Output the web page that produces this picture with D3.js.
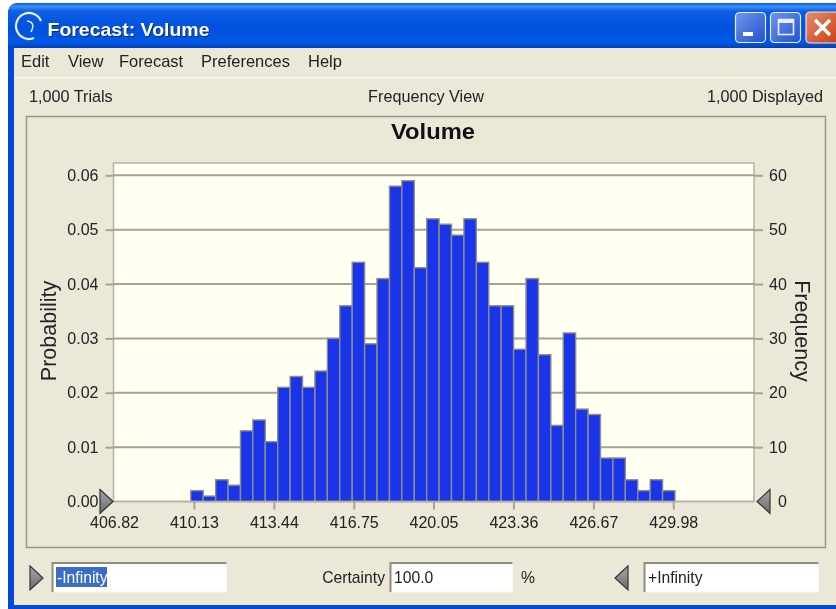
<!DOCTYPE html>
<html>
<head>
<meta charset="utf-8">
<title>Forecast: Volume</title>
<script src="https://cdn.jsdelivr.net/npm/d3@7"></script>
<style>
html, body { margin: 0; padding: 0; background: #fff; }
svg { display: block; filter: blur(0.45px); }
text { font-family: "Liberation Sans", sans-serif; fill: #222; }
.axis text { font-size: 16px; fill: #222; }
.axis path { display: none; }
.axis line { stroke: #a5a296; stroke-width: 2px; }
.menu { font-size: 16.5px; }
.info { font-size: 16.2px; }
.field { font-size: 15.7px; }
</style>
</head>
<body>
<script>

// histogram of the forecast (1000 trials in total)
var counts = [2, 1, 4, 3, 13, 15, 11, 21, 23, 21, 24, 30, 36, 44, 29, 41, 58, 59, 43, 52,
              51, 49, 52, 44, 36, 36, 28, 41, 27, 14, 31, 17, 16, 8, 8, 4, 2, 4, 2];
var binRange = [410.0, 430.05];
var xTicks = [406.82, 410.13, 413.44, 416.75, 420.05, 423.36, 426.67, 429.98];
var probTicks = [0, 0.01, 0.02, 0.03, 0.04, 0.05, 0.06];
var freqTicks = [0, 10, 20, 30, 40, 50, 60];
var menuItems = ["Edit", "View", "Forecast", "Preferences", "Help"];
var menuX = [21, 68, 119, 201, 308];

var width = 836,
    height = 609;

var plot = {left: 113.5, right: 754, top: 163, bottom: 501.5};

var x = d3.scaleLinear().domain([406.82, 429.98]).range([114, 673.3]);
var band = d3.scaleBand().domain(d3.range(counts.length)).range([x(binRange[0]), x(binRange[1])]);
var yFreq = d3.scaleLinear().domain([0, 60]).range([plot.bottom, 175.3]);
var yProb = d3.scaleLinear().domain([0, 0.06]).range([plot.bottom, 175.3]);

var svg = d3.select("body").append("svg")
    .attr("width", width)
    .attr("height", height);

var defs = svg.append("defs");

var titleGrad = defs.append("linearGradient").attr("id", "titleGrad")
    .attr("x1", 0).attr("y1", 0).attr("x2", 0).attr("y2", 1);
[[0, "#0a5be0"], [0.08, "#3d90f5"], [0.18, "#0c5fe6"], [0.55, "#0151dd"], [0.88, "#0258e6"], [1, "#0040b8"]]
  .forEach(function(s) { titleGrad.append("stop").attr("offset", s[0]).attr("stop-color", s[1]); });

var btnGrad = defs.append("linearGradient").attr("id", "btnGrad")
    .attr("x1", 0).attr("y1", 0).attr("x2", 1).attr("y2", 1);
btnGrad.append("stop").attr("offset", 0).attr("stop-color", "#6f96ec");
btnGrad.append("stop").attr("offset", 1).attr("stop-color", "#2350cf");

var closeGrad = defs.append("linearGradient").attr("id", "closeGrad")
    .attr("x1", 0).attr("y1", 0).attr("x2", 1).attr("y2", 1);
closeGrad.append("stop").attr("offset", 0).attr("stop-color", "#e88c6c");
closeGrad.append("stop").attr("offset", 1).attr("stop-color", "#c83c12");

var markGrad = defs.append("linearGradient").attr("id", "markGrad")
    .attr("x1", 0).attr("y1", 0).attr("x2", 0).attr("y2", 1);
markGrad.append("stop").attr("offset", 0).attr("stop-color", "#a8a8a8");
markGrad.append("stop").attr("offset", 1).attr("stop-color", "#6a6a6a");

// window frame
svg.append("path")
    .attr("d", "M8,609V14Q8,3 19,3H836V609Z")
    .attr("fill", "#0349d6");
svg.append("path")
    .attr("d", "M8,48V14Q8,3 19,3H836V48Z")
    .attr("fill", "url(#titleGrad)");
svg.append("rect")
    .attr("x", 14).attr("y", 48)
    .attr("width", width - 14).attr("height", 557)
    .attr("fill", "#ebe8d8");
svg.append("rect")
    .attr("x", 14).attr("y", 77)
    .attr("width", width - 14).attr("height", 1.5)
    .attr("fill", "#fbfaf5");

// title bar
svg.append("path")
    .attr("d", "M41,21A13,13 0 1 0 34,38")
    .attr("fill", "none").attr("stroke", "#e8f0ff").attr("stroke-width", 2.2);
svg.append("path")
    .attr("d", "M27,21Q36,22 31,32")
    .attr("fill", "none").attr("stroke", "#e8f0ff").attr("stroke-width", 1.5);
svg.append("text")
    .attr("x", 48.5).attr("y", 37)
    .attr("textLength", 162)
    .attr("lengthAdjust", "spacingAndGlyphs")
    .style("font-weight", "bold").style("font-size", "19px")
    .style("fill", "#0a2a80")
    .text("Forecast: Volume");
svg.append("text")
    .attr("x", 47.5).attr("y", 36)
    .attr("textLength", 162)
    .attr("lengthAdjust", "spacingAndGlyphs")
    .style("font-weight", "bold").style("font-size", "19px")
    .style("fill", "#fff")
    .text("Forecast: Volume");

// window buttons
[736, 771].forEach(function(bx) {
  svg.append("rect")
      .attr("x", bx - 0.5).attr("y", 12.5)
      .attr("width", 30).attr("height", 30).attr("rx", 4)
      .attr("fill", "url(#btnGrad)").attr("stroke", "#e8eefc").attr("stroke-width", 1.2);
});
svg.append("rect").attr("x", 743).attr("y", 32).attr("width", 10).attr("height", 4).attr("fill", "#fff");
svg.append("rect")
    .attr("x", 778.5).attr("y", 19.5).attr("width", 15).attr("height", 15)
    .attr("fill", "none").attr("stroke", "#e8eefc").attr("stroke-width", 1.6);
svg.append("rect").attr("x", 778).attr("y", 19).attr("width", 16).attr("height", 4).attr("fill", "#e8eefc");
svg.append("rect")
    .attr("x", 806).attr("y", 12).attr("width", 34).attr("height", 31).attr("rx", 4)
    .attr("fill", "url(#closeGrad)").attr("stroke", "#f0e4e0").attr("stroke-width", 1.2);
svg.append("path")
    .attr("d", "M815,20L830,35M830,20L815,35")
    .attr("stroke", "#fff").attr("stroke-width", 3.4);

// menu and info row
svg.selectAll(".menu")
    .data(menuItems)
    .enter().append("text")
    .attr("class", "menu")
    .attr("x", function(d, i) { return menuX[i]; })
    .attr("y", 67)
    .text(function(d) { return d; });

svg.append("text").attr("class", "info").attr("x", 29).attr("y", 102).text("1,000 Trials");
svg.append("text").attr("class", "info").attr("x", 426).attr("y", 102)
    .attr("text-anchor", "middle").text("Frequency View");
svg.append("text").attr("class", "info").attr("x", 823).attr("y", 102)
    .attr("text-anchor", "end").text("1,000 Displayed");

// chart panel
svg.append("rect")
    .attr("x", 26.5).attr("y", 116.5)
    .attr("width", 799).attr("height", 431)
    .attr("fill", "none").attr("stroke", "#9a978a").attr("stroke-width", 1.5);

svg.append("text")
    .attr("x", 433).attr("y", 139)
    .attr("text-anchor", "middle")
    .attr("textLength", 84)
    .attr("lengthAdjust", "spacingAndGlyphs")
    .style("font-weight", "bold").style("font-size", "22px")
    .style("fill", "#111")
    .text("Volume");

svg.append("rect")
    .attr("x", plot.left).attr("y", plot.top)
    .attr("width", plot.right - plot.left).attr("height", plot.bottom - plot.top)
    .attr("fill", "#fffff2").attr("stroke", "#b5b2a5").attr("stroke-width", 1.5);

// axes, the left and right ticks run across the plot as the grid
var leftAxis = svg.append("g")
    .attr("class", "axis")
    .attr("transform", "translate(" + plot.left + ",0)")
    .call(d3.axisLeft(yProb).tickValues(probTicks).tickFormat(d3.format(".2f")).tickSize(8).tickPadding(7));
leftAxis.selectAll("line").filter(function(d) { return d === 0; }).remove();

var rightAxis = svg.append("g")
    .attr("class", "axis")
    .attr("transform", "translate(" + plot.right + ",0)")
    .call(d3.axisRight(yFreq).tickValues(freqTicks).tickSize(9).tickPadding(6));
rightAxis.selectAll("line").filter(function(d) { return d === 0; }).remove();
// the 0 sits beyond the grab handle
rightAxis.selectAll("text").filter(function(d) { return d === 0; }).attr("x", 24);

svg.append("g")
    .attr("class", "axis")
    .selectAll("line")
    .data(freqTicks.filter(function(d) { return d > 0; }))
    .enter().append("line")
    .attr("x1", plot.left).attr("x2", plot.right)
    .attr("y1", yFreq).attr("y2", yFreq);

var bottomAxis = svg.append("g")
    .attr("class", "axis")
    .attr("transform", "translate(0," + plot.bottom + ")")
    .call(d3.axisBottom(x).tickValues(xTicks).tickFormat(d3.format(".2f")).tickSize(8).tickPadding(7));
bottomAxis.selectAll("line").filter(function(d) { return d === 406.82; }).remove();

// bars
svg.append("g")
    .selectAll("rect")
    .data(counts)
    .enter().append("rect")
    .attr("x", function(d, i) { return band(i); })
    .attr("y", function(d) { return yFreq(d); })
    .attr("width", band.bandwidth())
    .attr("height", function(d) { return yFreq(0) - yFreq(d); })
    .attr("fill", "#1a34ea")
    .attr("stroke", "#8f8d85")
    .attr("stroke-width", 1.4);

svg.append("line")
    .attr("x1", plot.left).attr("x2", plot.right)
    .attr("y1", plot.bottom).attr("y2", plot.bottom)
    .attr("stroke", "#b5b2a5").attr("stroke-width", 1.5);

// axis titles
svg.append("text")
    .attr("transform", "translate(56,331) rotate(-90)")
    .attr("text-anchor", "middle")
    .style("font-size", "21.5px")
    .text("Probability");
svg.append("text")
    .attr("transform", "translate(795,331) rotate(90)")
    .attr("text-anchor", "middle")
    .style("font-size", "21.5px")
    .text("Frequency");

// grab handles
function marker(px, py, dir) {
  svg.append("path")
      .attr("d", "M" + px + "," + (py - 12) + "L" + (px + dir * 13) + "," + py + "L" + px + "," + (py + 12) + "Z")
      .attr("fill", "url(#markGrad)").attr("stroke", "#333").attr("stroke-width", 1.2);
}
marker(100, 501.5, 1);
marker(770, 501.5, -1);
marker(30, 578, 1);
marker(628, 578, -1);

// entry fields
function field(fx, fw) {
  svg.append("rect")
      .attr("x", fx).attr("y", 563).attr("width", fw).attr("height", 29)
      .attr("fill", "#fff").attr("stroke", "#f6f5ee").attr("stroke-width", 1);
  svg.append("path")
      .attr("d", "M" + fx + ",592V563H" + (fx + fw))
      .attr("fill", "none").attr("stroke", "#8f8c7f").attr("stroke-width", 2);
}
field(52.5, 174);
field(390.5, 122);
field(644.5, 174);

svg.append("rect")
    .attr("x", 56).attr("y", 567).attr("width", 51).attr("height", 20)
    .attr("fill", "#3a6cc8");
svg.append("text").attr("class", "field").attr("x", 57).attr("y", 583)
    .style("fill", "#fff").text("-Infinity");
svg.append("text").attr("class", "field").attr("x", 385).attr("y", 583)
    .attr("text-anchor", "end").text("Certainty");
svg.append("text").attr("class", "field").attr("x", 394).attr("y", 583).text("100.0");
svg.append("text").attr("class", "field").attr("x", 521).attr("y", 583).text("%");
svg.append("text").attr("class", "field").attr("x", 648).attr("y", 583).text("+Infinity");

</script>
</body>
</html>
